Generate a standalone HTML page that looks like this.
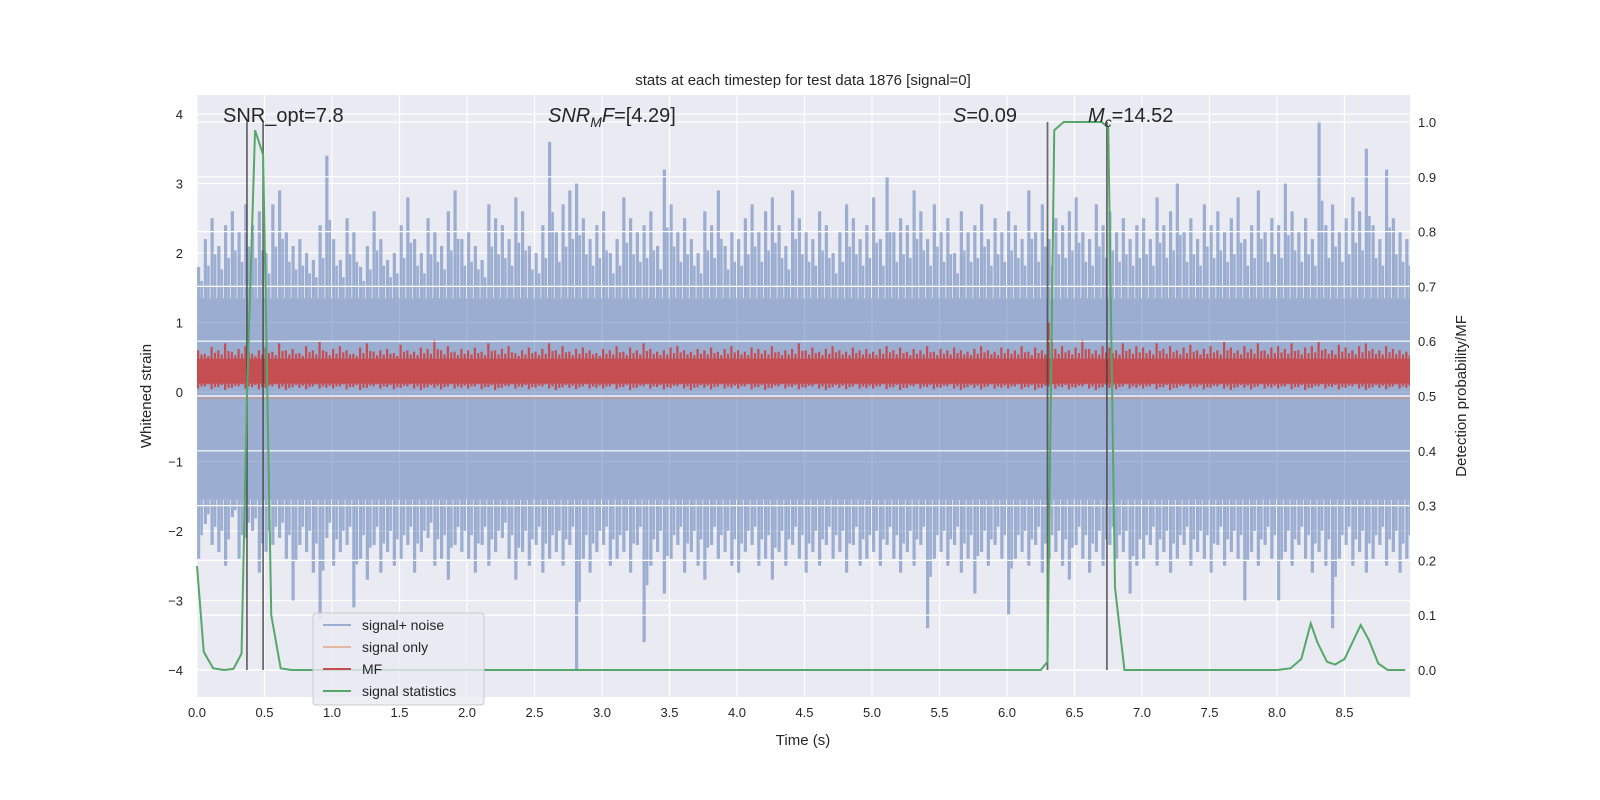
<!DOCTYPE html>
<html><head><meta charset="utf-8">
<style>
html,body{margin:0;padding:0;background:#fff;}
svg{display:block;font-family:"Liberation Sans","DejaVu Sans",sans-serif;}
</style></head>
<body>
<svg id="chart" width="1600" height="800" viewBox="0 0 1600 800" xmlns="http://www.w3.org/2000/svg">
<rect x="197" y="95" width="1213" height="602" fill="#eaeaf2"/>
<g id="gridL"></g>
<g id="noise"></g>
<line id="sigOnly" stroke="#dd8452" stroke-opacity="0.5" stroke-width="1.5"/>
<g id="mf"></g>
<g id="gridR"></g>
<g id="vlines"></g>
<polyline id="stat" fill="none" stroke="#55a868" stroke-width="2"/>
<g id="ticks" font-size="13" fill="#262626"></g>
<text x="803" y="85" font-size="15" text-anchor="middle" fill="#262626">stats at each timestep for test data 1876 [signal=0]</text>
<text x="803" y="745" font-size="15" text-anchor="middle" fill="#262626">Time (s)</text>
<text transform="translate(151,396) rotate(-90)" font-size="15" text-anchor="middle" fill="#262626">Whitened strain</text>
<text transform="translate(1466,396) rotate(-90)" font-size="15" text-anchor="middle" fill="#262626">Detection probability/MF</text>
<g font-size="20" fill="#262626">
<text x="223" y="122">SNR_opt=7.8</text>
<text x="548" y="122"><tspan font-style="italic">SNR</tspan><tspan font-style="italic" font-size="14" dy="5">M</tspan><tspan font-style="italic" dy="-5">F</tspan>=[4.29]</text>
<text x="953" y="122"><tspan font-style="italic">S</tspan>=0.09</text>
<text x="1088" y="122"><tspan font-style="italic">M</tspan><tspan font-style="italic" font-size="14" dy="5">c</tspan><tspan dy="-5">=14.52</tspan></text>
</g>
<g>
<rect x="313" y="613" width="171" height="92" rx="3" fill="#eaeaf2" fill-opacity="0.8" stroke="#cccccc"/>
<g><line x1="323" y1="625" x2="351" y2="625" stroke="#4c72b0" stroke-opacity="0.5" stroke-width="2"/><text x="362" y="630" font-size="14" fill="#262626">signal+ noise</text></g>
<g><line x1="323" y1="647" x2="351" y2="647" stroke="#dd8452" stroke-opacity="0.5" stroke-width="2"/><text x="362" y="652" font-size="14" fill="#262626">signal only</text></g>
<g><line x1="323" y1="669" x2="351" y2="669" stroke="#c44e52" stroke-width="2"/><text x="362" y="674" font-size="14" fill="#262626">MF</text></g>
<g><line x1="323" y1="691" x2="351" y2="691" stroke="#55a868" stroke-width="2"/><text x="362" y="696" font-size="14" fill="#262626">signal statistics</text></g>
</g>
</svg>
<script>
const binWidth = 0.05;
const noiseHi = [1.8,2.2,2.5,2.1,2.4,2.6,2.3,2.7,2.4,2.6,2.0,2.7,2.9,2.3,2.1,2.2,2.0,1.9,2.4,3.4,
2.2,1.9,2.5,2.3,1.8,2.1,2.6,2.2,1.9,2.0,2.4,2.8,2.2,2.0,2.5,2.3,2.1,2.6,2.9,2.2,
2.3,2.1,1.9,2.7,2.5,2.4,2.2,2.8,2.6,2.1,2.0,2.4,3.6,2.3,2.7,2.9,3.0,2.5,2.2,2.4,
2.6,2.0,2.2,2.8,2.5,2.3,2.4,2.6,2.1,3.2,2.7,2.3,2.5,2.2,2.0,2.6,2.4,2.9,2.1,2.3,
2.2,2.5,2.7,2.3,2.6,2.8,2.4,2.1,2.9,2.5,2.3,2.2,2.6,2.4,2.0,2.3,2.7,2.5,2.2,2.4,
2.8,2.2,3.1,2.3,2.5,2.4,2.9,2.6,2.2,2.7,2.3,2.5,2.0,2.6,2.3,2.4,2.7,2.2,2.5,2.3,
2.6,2.4,2.2,2.9,2.3,2.7,2.2,2.5,2.4,2.6,2.8,2.3,2.2,2.7,2.4,2.6,2.3,2.5,2.2,2.4,
2.5,2.2,2.8,2.4,2.6,3.0,2.3,2.5,2.2,2.7,2.4,2.6,2.3,2.5,2.8,2.2,2.4,2.9,2.3,2.5,
2.4,3.0,2.6,2.3,2.5,2.2,3.9,2.4,2.7,2.3,2.5,2.8,2.6,3.5,2.4,2.2,3.2,2.5,2.3,2.2];
const noiseLo = [-2.4,-1.9,-2.2,-2.3,-2.5,-1.8,-2.4,-2.1,-2.0,-2.6,-2.3,-2.2,-2.1,-2.4,-3.0,-2.2,-2.3,-2.6,-3.25,-2.1,
-2.5,-2.3,-2.2,-3.1,-2.4,-2.7,-2.2,-2.6,-2.3,-2.5,-2.4,-2.2,-2.6,-2.3,-2.1,-2.5,-2.4,-2.7,-2.2,-2.3,
-2.4,-2.6,-2.2,-2.5,-2.3,-2.1,-2.4,-2.7,-2.3,-2.5,-2.2,-2.6,-2.4,-2.3,-2.5,-2.2,-4.0,-2.4,-2.6,-2.3,
-2.2,-2.5,-2.4,-2.3,-2.6,-2.2,-3.6,-2.5,-2.3,-2.9,-2.4,-2.2,-2.6,-2.3,-2.5,-2.7,-2.2,-2.4,-2.3,-2.5,
-2.6,-2.3,-2.2,-2.5,-2.4,-2.7,-2.3,-2.5,-2.2,-2.4,-2.6,-2.3,-2.5,-2.2,-2.4,-2.3,-2.6,-2.2,-2.5,-2.4,
-2.3,-2.5,-2.2,-2.4,-2.6,-2.3,-2.5,-2.2,-3.4,-2.4,-2.3,-2.5,-2.2,-2.6,-2.4,-2.9,-2.3,-2.5,-2.2,-2.4,
-3.2,-2.4,-2.3,-2.5,-2.2,-2.6,-2.4,-2.3,-2.5,-2.7,-2.2,-2.4,-2.6,-2.3,-2.5,-2.2,-2.4,-2.3,-2.9,-2.5,
-2.4,-2.2,-2.5,-2.3,-2.6,-2.4,-2.2,-2.5,-2.3,-2.4,-2.6,-2.2,-2.5,-2.3,-2.4,-3.0,-2.3,-2.5,-2.2,-2.4,
-3.0,-2.3,-2.5,-2.2,-2.4,-2.6,-2.3,-2.5,-3.4,-2.4,-2.2,-2.5,-2.3,-2.6,-2.4,-2.2,-2.5,-2.3,-2.6,-2.4];
const noiseCoreHi = 1.35;
const noiseCoreLo = -1.55;
const mfBin = 0.05;
const mfHi = [0.6,0.55,0.65,0.6,0.7,0.58,0.62,0.66,0.55,0.6,0.64,0.58,0.7,0.6,0.62,0.56,0.66,0.6,0.72,0.58,
0.62,0.66,0.6,0.55,0.64,0.7,0.58,0.6,0.62,0.56,0.68,0.6,0.58,0.64,0.62,0.75,0.6,0.66,0.58,0.62,
0.6,0.64,0.58,0.7,0.6,0.62,0.66,0.56,0.6,0.64,0.58,0.62,0.7,0.6,0.66,0.58,0.62,0.64,0.6,0.56,
0.62,0.6,0.66,0.58,0.64,0.6,0.7,0.62,0.58,0.6,0.64,0.66,0.6,0.58,0.62,0.6,0.64,0.58,0.62,0.66,
0.6,0.58,0.64,0.62,0.6,0.66,0.58,0.6,0.62,0.7,0.6,0.64,0.58,0.62,0.66,0.6,0.58,0.64,0.6,0.62,
0.58,0.62,0.66,0.6,0.64,0.58,0.62,0.6,0.66,0.58,0.62,0.6,0.64,0.6,0.58,0.62,0.66,0.6,0.58,0.64,
0.62,0.6,0.66,0.58,0.64,0.6,1.0,0.62,0.66,0.6,0.64,0.75,0.62,0.6,0.66,0.64,0.6,0.7,0.62,0.66,
0.64,0.6,0.7,0.62,0.66,0.6,0.64,0.68,0.6,0.62,0.66,0.6,0.72,0.64,0.6,0.66,0.62,0.7,0.6,0.64,
0.66,0.62,0.7,0.6,0.64,0.66,0.72,0.62,0.6,0.68,0.64,0.6,0.66,0.7,0.62,0.6,0.66,0.62,0.6,0.58];
const mfLo = [0.05,0.08,0.04,0.07,0.03,0.06,0.08,0.05,0.07,0.04,0.06,0.08,0.05,0.03,0.07,0.06,0.04,0.08,0.05,0.06];
const mfCoreHi = 0.48;
const mfCoreLo = 0.12;
const statT = [0,0.05,0.12,0.2,0.27,0.33,0.37,0.43,0.49,0.55,0.62,0.7,6.25,6.3,6.35,6.42,6.7,6.75,6.8,6.87,8.0,8.1,8.18,8.25,8.3,8.37,8.43,8.5,8.62,8.68,8.75,8.82,8.95];
const statV = [0.19,0.033,0.003,0.0,0.002,0.03,0.5,0.985,0.94,0.1,0.003,0.0,0.0,0.015,0.985,1.0,1.0,0.99,0.15,0.0,0.0,0.003,0.02,0.085,0.05,0.015,0.01,0.02,0.082,0.055,0.012,0.0,0.0];
const markerT = [0.37,0.49,6.3,6.74];
const xTicks = [0,0.5,1,1.5,2,2.5,3,3.5,4,4.5,5,5.5,6,6.5,7,7.5,8,8.5];
const yTicks = [-4,-3,-2,-1,0,1,2,3,4];
const y2Ticks = [0,0.1,0.2,0.3,0.4,0.5,0.6,0.7,0.8,0.9,1.0];

const NS='http://www.w3.org/2000/svg';
const X0=197,X1=1410,Ytop=95,Ybot=697;
const xs=t=>X0+t*135;
const ys=v=>392-v*69.5;
const y2s=p=>670-p*548;
function mk(tag,parent){const e=document.createElementNS(NS,tag);parent.appendChild(e);return e;}
const gl=document.getElementById('gridL'),gr=document.getElementById('gridR');
xTicks.forEach(t=>{const l=mk('line',gl);l.setAttribute('x1',xs(t));l.setAttribute('x2',xs(t));l.setAttribute('y1',Ytop);l.setAttribute('y2',Ybot);l.setAttribute('stroke','#fff');l.setAttribute('stroke-width','1.2');

});
yTicks.forEach(v=>{const l=mk('line',gl);l.setAttribute('x1',X0);l.setAttribute('x2',X1);l.setAttribute('y1',ys(v));l.setAttribute('y2',ys(v));l.setAttribute('stroke','#fff');l.setAttribute('stroke-width','1.2');

});
const ng=document.getElementById('noise');
const core=mk('rect',ng);core.setAttribute('x',X0);core.setAttribute('width',X1-X0);core.setAttribute('y',ys(noiseCoreHi));core.setAttribute('height',ys(noiseCoreLo)-ys(noiseCoreHi));core.setAttribute('fill','#4c72b0');core.setAttribute('fill-opacity','0.5');


noiseHi.forEach((v,i)=>{const x=xs(i*binWidth);if(x>X1)return;
 const parts=[[v,noiseCoreHi],[noiseCoreLo,noiseLo[i]]];
 parts.forEach(([a,b],k)=>{
 const r=mk('rect',ng);r.setAttribute('x',x);r.setAttribute('width',Math.min(3.2,X1-x));r.setAttribute('y',ys(a));r.setAttribute('height',ys(b)-ys(a));r.setAttribute('fill','#4c72b0');r.setAttribute('fill-opacity','0.5');
 
 
 const r2=mk('rect',ng);r2.setAttribute('x',x+3.4);r2.setAttribute('width',Math.max(0,Math.min(2.5,X1-x-3.4)));
 const a2=k===0?noiseCoreHi+(a-noiseCoreHi)*0.55:a, b2=k===0?b:noiseCoreLo+(b-noiseCoreLo)*0.6;
 r2.setAttribute('y',ys(a2));r2.setAttribute('height',ys(b2)-ys(a2));r2.setAttribute('fill','#4c72b0');r2.setAttribute('fill-opacity','0.5');
 
 
 });
});
const so=document.getElementById('sigOnly');so.setAttribute('x1',X0);so.setAttribute('x2',X1);so.setAttribute('y1',ys(-0.09));so.setAttribute('y2',ys(-0.09));
const mg=document.getElementById('mf');
const mc=mk('rect',mg);mc.setAttribute('x',X0);mc.setAttribute('width',X1-X0);mc.setAttribute('y',ys(mfCoreHi));mc.setAttribute('height',ys(mfCoreLo)-ys(mfCoreHi));mc.setAttribute('fill','#c44e52');


mfHi.forEach((v,i)=>{const x=xs(i*mfBin);if(x>X1)return;
 const lo=mfLo[i%mfLo.length];
 [[v,lo,0],[mfCoreHi+(v-mfCoreHi)*0.5,lo+0.03,3.4]].forEach(([a,b,dx])=>{
 const r=mk('rect',mg);r.setAttribute('x',x+dx);r.setAttribute('width',Math.max(0,Math.min(2.2,X1-x-dx)));r.setAttribute('y',ys(a));r.setAttribute('height',ys(b)-ys(a));r.setAttribute('fill','#c44e52');
 
 });
});
y2Ticks.forEach(p=>{const l=mk('line',gr);l.setAttribute('x1',X0);l.setAttribute('x2',X1);l.setAttribute('y1',y2s(p));l.setAttribute('y2',y2s(p));l.setAttribute('stroke','#fff');l.setAttribute('stroke-width','1.2');

});
const vg=document.getElementById('vlines');
markerT.forEach(t=>{const l=mk('line',vg);l.setAttribute('x1',xs(t));l.setAttribute('x2',xs(t));l.setAttribute('y1',y2s(0));l.setAttribute('y2',y2s(1));l.setAttribute('stroke','#404040');l.setAttribute('stroke-opacity','0.75');l.setAttribute('stroke-width','1.8');

});
document.getElementById('stat').setAttribute('points',statT.map((t,i)=>xs(t)+','+y2s(statV[i])).join(' '));
const tg=document.getElementById('ticks');
xTicks.forEach(t=>{const e=mk('text',tg);e.setAttribute('x',xs(t));e.setAttribute('y',717);e.setAttribute('text-anchor','middle');e.textContent=t.toFixed(1);

});
yTicks.forEach(v=>{const e=mk('text',tg);e.setAttribute('x',183);e.setAttribute('y',ys(v)+5);e.setAttribute('text-anchor','end');e.textContent=v<0?'\u2212'+(-v):String(v);

});
y2Ticks.forEach(p=>{const e=mk('text',tg);e.setAttribute('x',1418);e.setAttribute('y',y2s(p)+5);e.textContent=p.toFixed(1);

});
</script>
</body></html>
